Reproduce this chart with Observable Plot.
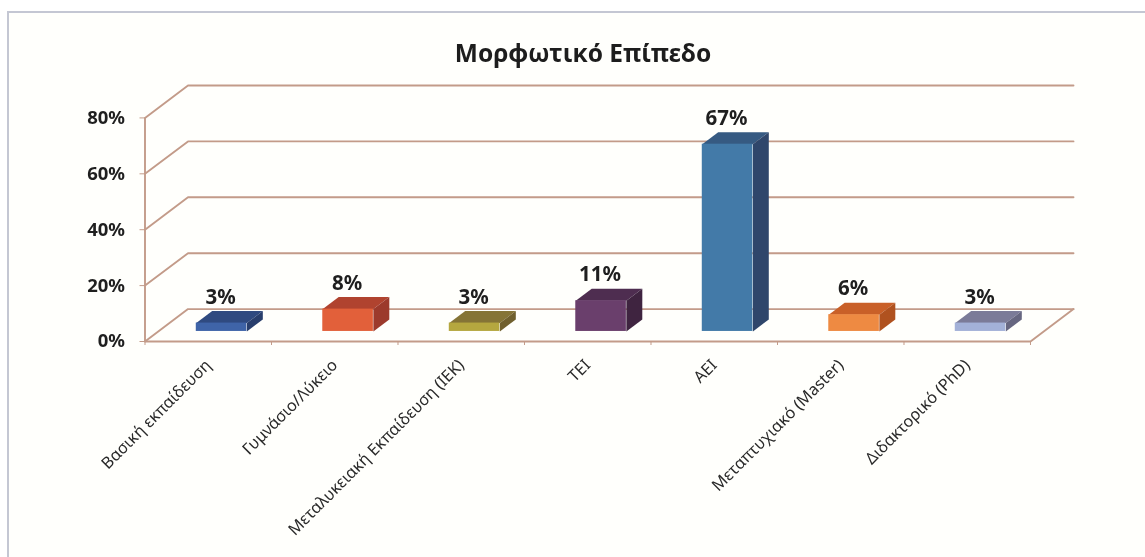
<!DOCTYPE html>
<html>
<head>
<meta charset="utf-8">
<script src="https://cdn.jsdelivr.net/npm/d3@7"></script>
<script src="https://cdn.jsdelivr.net/npm/@observablehq/plot@0.6"></script>
<style>
  html, body { margin: 0; padding: 0; background: #fff; }
  #page { position: relative; width: 1145px; height: 557px; overflow: hidden; font-family: "Noto Sans", sans-serif; }
  #frame { position: absolute; left: 7px; top: 11px; right: -6px; bottom: -6px; border: 2px solid #c4c7d3; filter: blur(0.5px); background: #fffffc; }
  #title { position: absolute; left: 0; width: 1166px; top: 33px; height: 40px; line-height: 40px; text-align: center; font-size: 24.5px; font-weight: 700; color: #1d1d1d; filter: blur(0.5px); }
  #chart { position: absolute; left: 0; top: 70px; filter: blur(0.6px); }
  #chart svg { display: block; background: transparent; }
</style>
</head>
<body>
<div id="page">
  <div id="frame"></div>
  <div id="title">Μορφωτικό Επίπεδο</div>
  <div id="chart"></div>
</div>
<script>
const categories = ["Βασική εκπαίδευση", "Γυμνάσιο/Λύκειο", "Μεταλυκειακή Εκπαίδευση (ΙΕΚ)", "ΤΕΙ", "ΑΕΙ", "Μεταπτυχιακό (Master)", "Διδακτορικό (PhD)"];
const values = [3, 8, 3, 11, 67, 6, 3];
const frontColors = ["#3f64a8", "#e2603a", "#b5a73f", "#6a3f6c", "#437aa8", "#ee8a42", "#a3b1d8"];
const topColors = ["#2f4a80", "#b0432f", "#857436", "#4e2d50", "#365a82", "#c96028", "#7b7b98"];
const sideColors = ["#283e6c", "#9c3a2c", "#70602e", "#3f2440", "#2f466b", "#b0521f", "#666680"];
const yTicks = [0, 20, 40, 60, 80];

// oblique projection of the 3-D chart box, in data units
const depthX = 0.34, depthY = 11.6;
const project = (x, y, d) => ({x: x + d * depthX, y: y + d * depthY});
const barFront = 0.31, barBack = 0.68, barHalf = 0.2;

const lineColor = "#c39b89";
const n = categories.length;

const bars = categories.map((c, i) => {
  const cx = i + 0.5 + barFront * depthX;
  return {
    c, i, v: values[i],
    x1: cx - barHalf, x2: cx + barHalf, cx,
    y1: barFront * depthY, y2: values[i] + barFront * depthY
  };
});

const gridPaths = yTicks.flatMap((t) => [
  {id: t, ...project(0, t, 0)},
  {id: t, ...project(0, t, 1)},
  {id: t, ...project(n, t, 1)}
]);
const floorPath = [project(0, 0, 0), project(n, 0, 0), project(n, 0, 1)];

const topFaces = bars.flatMap((b) => {
  const y = b.v;
  return [project(b.x1 - barFront * depthX, y, barFront), project(b.x2 - barFront * depthX, y, barFront),
          project(b.x2 - barFront * depthX, y, barBack), project(b.x1 - barFront * depthX, y, barBack)]
    .map((p) => ({...p, id: b.i, fill: topColors[b.i]}));
});
const sideFaces = bars.flatMap((b) => {
  const x = b.x2 - barFront * depthX;
  return [project(x, 0, barFront), project(x, 0, barBack), project(x, b.v, barBack), project(x, b.v, barFront)]
    .map((p) => ({...p, id: b.i, fill: sideColors[b.i]}));
});

const chart = Plot.plot({
  width: 1145,
  height: 487,
  marginLeft: 144.5,
  marginRight: 72,
  marginTop: 15,
  marginBottom: 216,
  style: {background: "transparent", fontFamily: '"Noto Sans", sans-serif', overflow: "visible"},
  x: {type: "linear", domain: [0, n + depthX], axis: null},
  y: {type: "linear", domain: [0, 80 + depthY], axis: null},
  marks: [
    Plot.line(gridPaths, {x: "x", y: "y", z: "id", stroke: lineColor, strokeWidth: 1.9}),
    Plot.line(floorPath, {x: "x", y: "y", stroke: lineColor, strokeWidth: 1.9}),
    Plot.ruleX([0], {y1: 0, y2: 80, stroke: lineColor, strokeWidth: 1.9}),
    Plot.axisY({
      ticks: yTicks, tickSize: 5, tickFormat: (d) => d + "%", anchor: "left", label: null,
      stroke: lineColor, fill: "#1f1f1f", fontSize: 18.5, fontWeight: 700, tickPadding: 15
    }),
    Plot.axisX({
      ticks: d3.range(n + 1), tickSize: 4, tickFormat: () => "", anchor: "bottom", label: null,
      stroke: lineColor
    }),
    Plot.axisX({
      ticks: categories.map((c, i) => i + 0.5), tickSize: 0, tickPadding: 21, anchor: "bottom", label: null,
      tickFormat: (d) => categories[Math.floor(d)],
      tickRotate: -45, textAnchor: "end", fill: "#2a2a2a", fontSize: 16.2, stroke: "none"
    }),
    Plot.line(topFaces, {x: "x", y: "y", z: "id", fill: "fill", stroke: "none"}),
    Plot.line(sideFaces, {x: "x", y: "y", z: "id", fill: "fill", stroke: "none"}),
    Plot.rect(bars, {x1: "x1", x2: "x2", y1: "y1", y2: "y2", fill: (d) => frontColors[d.i]}),
    Plot.text(bars, {x: "cx", y: "y2", text: (d) => d.v + "%", dy: -26, dx: -1, fontSize: 20.5, fontWeight: 700, fill: "#1f1f1f"})
  ]
});
document.getElementById("chart").appendChild(chart);
</script>
</body>
</html>
